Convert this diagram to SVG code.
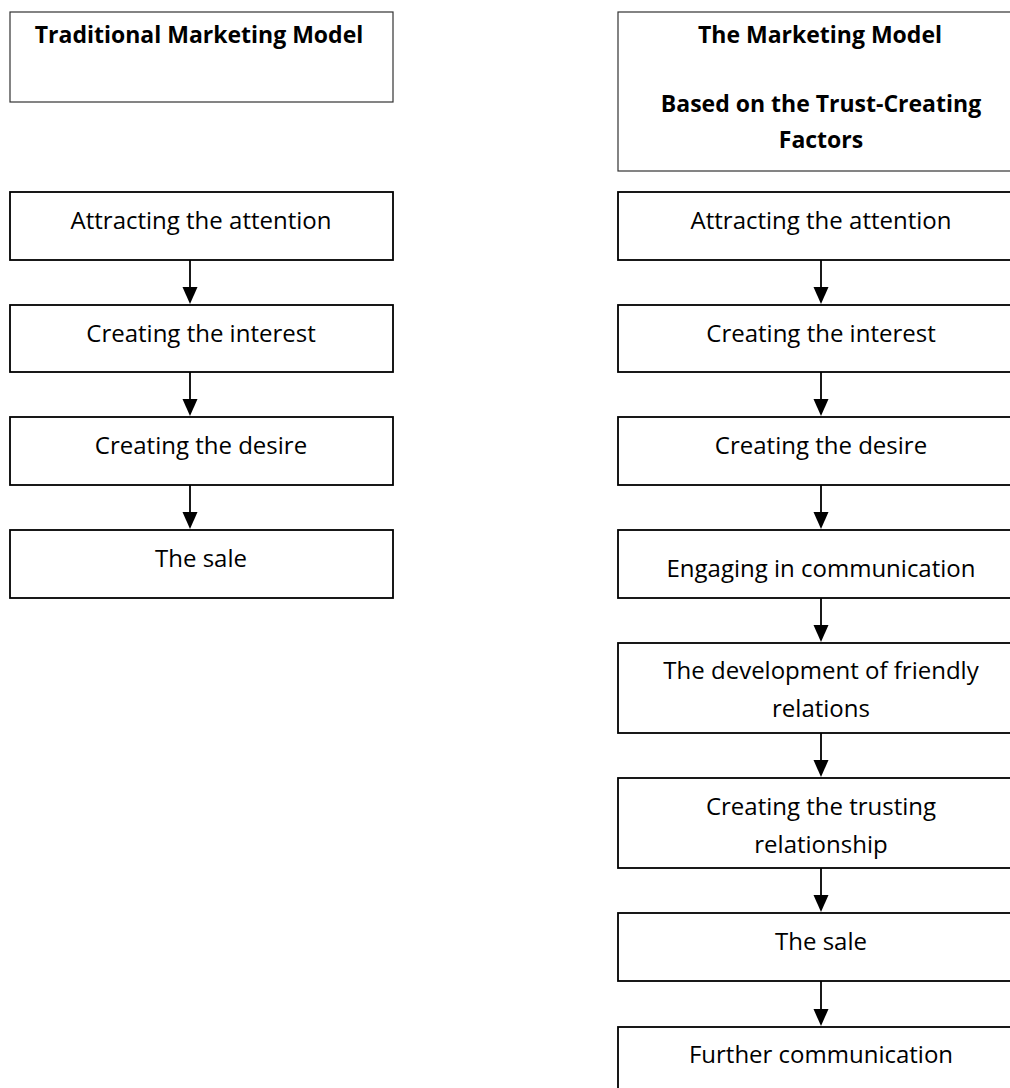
<svg xmlns="http://www.w3.org/2000/svg" width="1010" height="1088" viewBox="0 0 1010 1088">
<style>
.hdr{fill:#fff;stroke:#333;stroke-width:1.2}
.box{fill:#fff;stroke:#000;stroke-width:1.8}
.t{font-family:"Open Sans","Liberation Sans",sans-serif;font-size:24px;fill:#000;text-anchor:middle}
.b{font-family:"Open Sans","Liberation Sans",sans-serif;font-size:23px;font-weight:bold;fill:#000;text-anchor:middle}
.c{stroke:#000;stroke-width:1.8;fill:none}
.h{fill:#000}
</style>
<rect width="1010" height="1088" fill="#fff"/>
<g id="connectors">
<line class="c" x1="190" y1="260" x2="190" y2="290"/>
<line class="c" x1="190" y1="372" x2="190" y2="402"/>
<line class="c" x1="190" y1="485" x2="190" y2="515"/>
<line class="c" x1="821" y1="260" x2="821" y2="290"/>
<line class="c" x1="821" y1="372" x2="821" y2="402"/>
<line class="c" x1="821" y1="485" x2="821" y2="515"/>
<line class="c" x1="821" y1="598" x2="821" y2="628"/>
<line class="c" x1="821" y1="733" x2="821" y2="763"/>
<line class="c" x1="821" y1="868" x2="821" y2="898"/>
<line class="c" x1="821" y1="981" x2="821" y2="1012"/>
<path class="h" d="M182.5,287 L197.5,287 L190,304 Z"/>
<path class="h" d="M182.5,399 L197.5,399 L190,416 Z"/>
<path class="h" d="M182.5,512 L197.5,512 L190,529 Z"/>
<path class="h" d="M813.5,287 L828.5,287 L821,304 Z"/>
<path class="h" d="M813.5,399 L828.5,399 L821,416 Z"/>
<path class="h" d="M813.5,512 L828.5,512 L821,529 Z"/>
<path class="h" d="M813.5,625 L828.5,625 L821,642 Z"/>
<path class="h" d="M813.5,760 L828.5,760 L821,777 Z"/>
<path class="h" d="M813.5,895 L828.5,895 L821,912 Z"/>
<path class="h" d="M813.5,1009 L828.5,1009 L821,1026 Z"/>
</g>
<g id="left-header"><rect class="hdr" x="10" y="12" width="383" height="90"/><text class="b" x="199" y="43">Traditional Marketing Model</text></g>
<g id="left-1"><rect class="box" x="10" y="192" width="383" height="68"/><text class="t" x="201" y="229">Attracting the attention</text></g>
<g id="left-2"><rect class="box" x="10" y="305" width="383" height="67"/><text class="t" x="201" y="342">Creating the interest</text></g>
<g id="left-3"><rect class="box" x="10" y="417" width="383" height="68"/><text class="t" x="201" y="454">Creating the desire</text></g>
<g id="left-4"><rect class="box" x="10" y="530" width="383" height="68"/><text class="t" x="201" y="567">The sale</text></g>
<g id="right-header"><rect class="hdr" x="618" y="12" width="420" height="159"/><text class="b" x="820" y="43">The Marketing Model</text><text class="b" x="821" y="112">Based on the Trust-Creating</text><text class="b" x="821" y="148">Factors</text></g>
<g id="right-1"><rect class="box" x="618" y="192" width="420" height="68"/><text class="t" x="821" y="229">Attracting the attention</text></g>
<g id="right-2"><rect class="box" x="618" y="305" width="420" height="67"/><text class="t" x="821" y="342">Creating the interest</text></g>
<g id="right-3"><rect class="box" x="618" y="417" width="420" height="68"/><text class="t" x="821" y="454">Creating the desire</text></g>
<g id="right-4"><rect class="box" x="618" y="530" width="420" height="68"/><text class="t" x="821" y="577">Engaging in communication</text></g>
<g id="right-5"><rect class="box" x="618" y="643" width="420" height="90"/><text class="t" x="821" y="679">The development of friendly</text><text class="t" x="821" y="717">relations</text></g>
<g id="right-6"><rect class="box" x="618" y="778" width="420" height="90"/><text class="t" x="821" y="815">Creating the trusting</text><text class="t" x="821" y="853">relationship</text></g>
<g id="right-7"><rect class="box" x="618" y="913" width="420" height="68"/><text class="t" x="821" y="950">The sale</text></g>
<g id="right-8"><rect class="box" x="618" y="1027" width="420" height="90"/><text class="t" x="821" y="1063">Further communication</text></g>
</svg>
